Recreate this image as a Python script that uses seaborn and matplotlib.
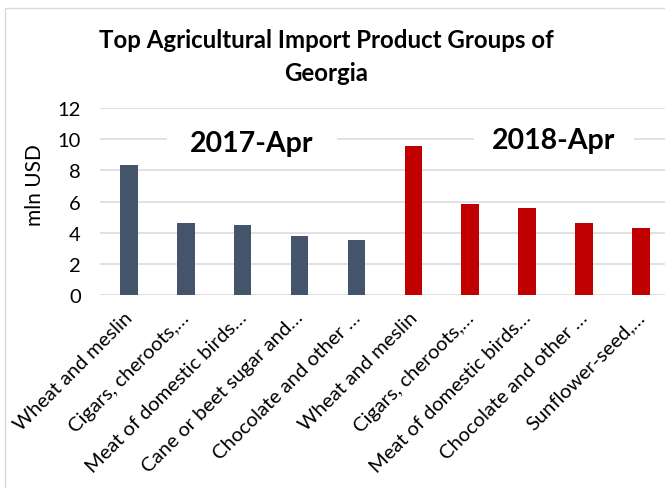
import matplotlib
matplotlib.use("Agg")
import matplotlib.pyplot as plt
import matplotlib.transforms as mtransforms
from matplotlib.patches import Rectangle
import pandas as pd
import seaborn as sns

# Import values, mln USD
labels_2017 = ["Wheat and meslin", "Cigars, cheroots,…", "Meat of domestic birds…",
               "Cane or beet sugar and…", "Chocolate and other …"]
values_2017 = [8.36, 4.64, 4.49, 3.79, 3.55]
labels_2018 = ["Wheat and meslin", "Cigars, cheroots,…", "Meat of domestic birds…",
               "Chocolate and other …", "Sunflower-seed,…"]
values_2018 = [9.56, 5.84, 5.58, 4.62, 4.28]
periods = ["2017-Apr", "2018-Apr"]
yticks = [0, 2, 4, 6, 8, 10, 12]

colors = {"2017-Apr": "#44546A", "2018-Apr": "#C00000"}
grid_color = "#D9D9D9"
text_color = "#000000"

tick_labels = labels_2017 + labels_2018
df = pd.DataFrame({
    "slot": list(range(len(tick_labels))),
    "value": values_2017 + values_2018,
    "period": [periods[0]] * len(values_2017) + [periods[1]] * len(values_2018),
})

sns.set_theme(style="white")
plt.rcParams["font.family"] = ["Lato", "DejaVu Sans"]

fig = plt.figure(figsize=(6.65, 4.89), dpi=100)
W, H = 665, 489

# chart frame (top and left edges visible)
fig.patches.append(Rectangle((5 / W, -0.1), 1.2, (H - 8.5) / H + 0.1,
                             transform=fig.transFigure, fill=False,
                             edgecolor=grid_color, linewidth=1.0))

ax = fig.add_axes([100.3 / W, (H - 296) / H, 569.2 / W, 187 / H])
sns.barplot(data=df, x="slot", y="value", hue="period", palette=colors,
            dodge=False, width=0.31, legend=False, ax=ax, saturation=1,
            linewidth=0, zorder=3)

ax.set_ylim(0, 12)
ax.set_xlim(-0.5, len(tick_labels) - 0.5)
ax.set_yticks(yticks)
ax.set_yticklabels([str(t) for t in yticks], fontsize=14.5, color=text_color)
ax.set_axisbelow(True)
ax.yaxis.grid(True, color=grid_color, linewidth=1.1)
ax.xaxis.grid(False)
for s in ax.spines.values():
    s.set_visible(False)
ax.tick_params(axis="both", length=0)
ax.tick_params(axis="y", pad=14)

ax.set_xticks(range(len(tick_labels)))
ax.set_xticklabels(tick_labels, rotation=45, ha="right", va="top",
                   rotation_mode="anchor", fontsize=14.5, color=text_color)
ax.tick_params(axis="x", pad=6)
shift = mtransforms.ScaledTranslation(-5 / 100, -5 / 100, fig.dpi_scale_trans)
for lbl in ax.get_xticklabels():
    lbl.set_transform(lbl.get_transform() + shift)
ax.set_xlabel("")
ax.set_ylabel("")

fig.text(35 / W, 1 - 185 / H, "mln USD", rotation=90, ha="center", va="center",
         fontsize=15, color=text_color)

# period captions on white boxes
ax.add_patch(Rectangle((0.67, 9.0), 2.98, 2.0, facecolor="white", edgecolor="none", zorder=2))
ax.add_patch(Rectangle((6.07, 9.0), 2.81, 2.0, facecolor="white", edgecolor="none", zorder=2))
ax.text(2.16, 9.26, periods[0], ha="center", va="baseline", fontsize=20.5,
        fontweight="bold", color=text_color, zorder=4)
ax.text(7.46, 9.42, periods[1], ha="center", va="baseline", fontsize=20.5,
        fontweight="bold", color=text_color, zorder=4)

fig.text(326 / W, 1 - 48 / H, "Top Agricultural Import Product Groups of",
         ha="center", va="baseline", fontsize=17.3, fontweight="bold", color=text_color)
fig.text(326 / W, 1 - 81 / H, "Georgia",
         ha="center", va="baseline", fontsize=17.3, fontweight="bold", color=text_color)

fig.savefig("out.png", dpi=100)
